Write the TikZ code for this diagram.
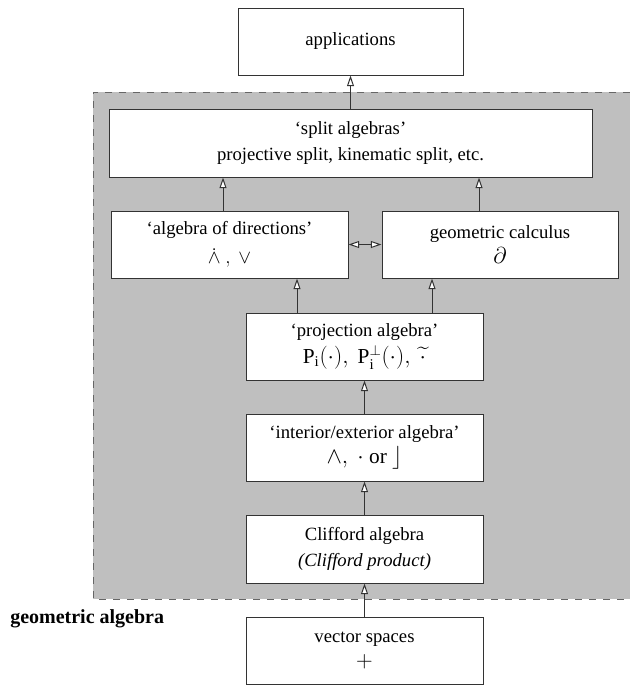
\documentclass[tikz,border=0pt]{standalone}
\usepackage{amsmath}
\usepackage{amssymb}
\usepackage{fontspec}
\setmainfont{Liberation Serif}
\usetikzlibrary{arrows.meta,calc}

\definecolor{boxline}{RGB}{51,51,51}
\definecolor{gaback}{RGB}{191,191,191}
\definecolor{dashline}{RGB}{102,102,102}

\newcommand{\mathline}[1]{\fontsize{#1}{19}\selectfont}

\tikzset{
  gabox/.style={draw=boxline, line width=0.75pt, fill=white, align=center, inner sep=0pt,
    minimum width=177.75pt, minimum height=50.25pt, font=\fontsize{14}{19}\selectfont},
  uparrow/.style={draw=boxline, line width=0.75pt, -{Triangle[length=8pt, width=5.25pt, fill=white]}},
  biarrow/.style={draw=boxline, line width=0.75pt, {Triangle[length=8pt, width=5.25pt, fill=white]}-{Triangle[length=8pt, width=5.25pt, fill=white]}},
  gaframe/.style={draw=dashline, line width=0.75pt, dash pattern=on 5.25pt off 5.25pt},
}

\begin{document}
\begin{tikzpicture}[x=0.75pt,y=0.75pt,yscale=-1,xscale=1]
        \useasboundingbox (0,0) rectangle (630,686);

        %Shape: Rectangle, grey area
        \fill [gaback] (93,92) rectangle (630,599) ;
        \draw [gaframe] (630,92) -- (93,92) -- (93,599) -- (630,599) ;

        % Boxes
        \node [gabox, minimum width=168.75pt] (app) at (350.5,41.5) {applications};
        \node [gabox, minimum width=362.25pt, minimum height=51pt] (split) at (350.5,143) {`split algebras'\\projective split, kinematic split, etc.};
        \node [gabox] (dirs) at (229.5,244.5) {`algebra of directions'\\[3pt]$\dot{\wedge}\ ,\ \vee$};
        \node [gabox, minimum width=177pt] (calc) at (500,244.5) {geometric calculus\\{\mathline{18}$\partial$}};
        \node [gabox] (proj) at (364.5,346.5) {`projection algebra'\\[1pt]{\mathline{16}$\mathrm{P}_{\mathrm{i}}(\cdot),\ \mathrm{P}^{\perp}_{\mathrm{i}}(\cdot),\ \widetilde{\cdot}$}};
        \node [gabox] (inter) at (364.5,447.5) {`interior/exterior algebra'\\{\mathline{16}$\wedge,\ \cdot\ \mathrm{or}\ \rfloor$}};
        \node [gabox, minimum height=51pt] (cliff) at (364.5,549) {Clifford algebra\\\textit{(Clifford product)}};
        \node [gabox] (vec) at (364.5,650.5) {vector spaces\\{\mathline{16}$+$}};

        % Text Node
        \node [anchor=west, inner sep=0pt, font=\fontsize{15}{17}\selectfont\bfseries] (ga) at (10,619) {geometric algebra};

        % Arrows
        \draw [uparrow] (split.north) -- (app.south) ;
        \draw [uparrow] ($(dirs.north)+(-6.5,0)$) -- ($(split.south)+(-127.5,0)$) ;
        \draw [uparrow] ($(calc.north)+(-21,0)$) -- ($(split.south)+(128.5,0)$) ;
        \draw [biarrow] (dirs.east) -- (calc.west) ;
        \draw [uparrow] ($(proj.north)+(-67.5,0)$) -- ($(dirs.south)+(67.5,0)$) ;
        \draw [uparrow] ($(proj.north)+(67.5,0)$) -- ($(calc.south)+(-68,0)$) ;
        \draw [uparrow] (inter.north) -- (proj.south) ;
        \draw [uparrow] (cliff.north) -- (inter.south) ;
        \draw [uparrow] (vec.north) -- (cliff.south) ;

\end{tikzpicture}
\end{document}
